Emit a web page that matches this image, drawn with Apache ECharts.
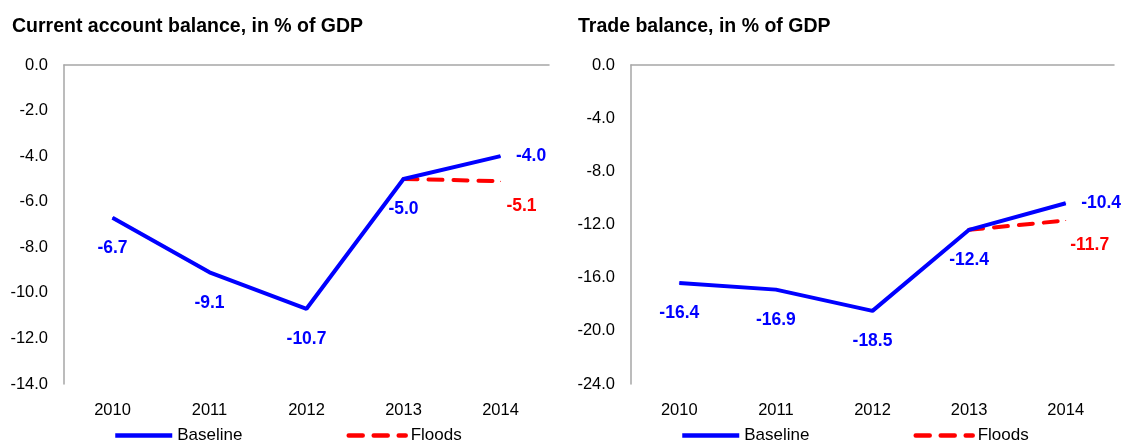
<!DOCTYPE html>
<html>
<head>
<meta charset="utf-8">
<script src="https://cdn.jsdelivr.net/npm/echarts@6/dist/echarts.min.js"></script>
<style>
html, body { margin: 0; padding: 0; background: #fff; }
#chart { width: 1126px; height: 443px; }
</style>
</head>
<body>
<div id="chart"></div>
<script>
var years = ['2010', '2011', '2012', '2013', '2014'];

// current account balance, % of GDP
var caBaseline = [-6.7, -9.1, -10.7, -5.0, -4.0];
var caFloods = [null, null, null, -5.0, -5.1];

// trade balance, % of GDP
var tbBaseline = [-16.4, -16.9, -18.5, -12.4, -10.4];
var tbFloods = [null, null, null, -12.4, -11.7];

var BLUE = '#0000ff';
var RED = '#ff0000';
var FONT = '"Liberation Sans", Arial, sans-serif';

var chart = echarts.init(document.getElementById('chart'));

// baseline: labels under the points, last one to the right
function baselineData(arr){
	return arr.map(function(v, i){
		if(i == arr.length - 1){
			return { value: v, label: { position: 'right', distance: 15 } };
		}
		return { value: v };
	});
}
// floods: only the last point gets a label, below and a bit to the right
function floodsData(arr, dx){
	return arr.map(function(v, i){
		if(i == arr.length - 1){
			return { value: v, label: { show: true, offset: [dx, -6] } };
		}
		return { value: v, label: { show: false } };
	});
}

function yAxis(idx, min, interval){
	return {
		type: 'value',
		gridIndex: idx,
		min: min,
		max: 0,
		interval: interval,
		axisLine: { show: true, lineStyle: { color: '#a6a6a6', width: 1.5 } },
		axisTick: { show: false },
		splitLine: { show: false },
		axisLabel: {
			color: '#000', fontSize: 16.5, fontFamily: FONT, margin: 16,
			formatter: function(v){ return v.toFixed(1); }
		}
	};
}

var labelBase = {
	show: true, position: 'bottom', distance: 21, fontSize: 17.5, fontWeight: 'bold', fontFamily: FONT,
	formatter: function(p){ return Number(p.value).toFixed(1); }
};

var legendBase = {
	data: ['Baseline', 'Floods'], top: 422, itemWidth: 57, itemHeight: 14, itemGap: 104,
	itemStyle: { opacity: 0 },
	lineStyle: { width: 4.5 },
	textStyle: { fontSize: 17, color: '#000', fontFamily: FONT }
};

var option = {
	animation: false,
	title: [
		{ text: 'Current account balance, in % of GDP', left: 7, top: 12,
		  textStyle: { fontSize: 19.5, fontWeight: 'bold', color: '#000', fontFamily: FONT } },
		{ text: 'Trade balance, in % of GDP', left: 573, top: 12,
		  textStyle: { fontSize: 19.5, fontWeight: 'bold', color: '#000', fontFamily: FONT } }
	],
	legend: [
		Object.assign({ left: 108 }, legendBase),
		Object.assign({ left: 675 }, legendBase)
	],
	grid: [
		{ left: 64, top: 65, width: 485, height: 319 },
		{ left: 631, top: 65, width: 483, height: 319 }
	],
	xAxis: [
		{ type: 'category', gridIndex: 0, data: years, position: 'bottom',
		  axisLine: { show: false }, axisTick: { show: false },
		  axisLabel: { color: '#000', fontSize: 16.5, fontFamily: FONT, margin: 18 } },
		{ type: 'category', gridIndex: 1, data: years, position: 'bottom',
		  axisLine: { show: false }, axisTick: { show: false },
		  axisLabel: { color: '#000', fontSize: 16.5, fontFamily: FONT, margin: 18 } },
		// zero lines along the top
		{ type: 'category', gridIndex: 0, data: years, position: 'top',
		  axisLine: { show: true, lineStyle: { color: '#a6a6a6', width: 1.5 } },
		  axisTick: { show: false }, axisLabel: { show: false } },
		{ type: 'category', gridIndex: 1, data: years, position: 'top',
		  axisLine: { show: true, lineStyle: { color: '#a6a6a6', width: 1.5 } },
		  axisTick: { show: false }, axisLabel: { show: false } }
	],
	yAxis: [ yAxis(0, -14, 2), yAxis(1, -24, 4) ],
	series: [
		{ name: 'Baseline', type: 'line', xAxisIndex: 0, yAxisIndex: 0, symbol: 'circle', symbolSize: 1, z: 3,
		  data: baselineData(caBaseline),
		  lineStyle: { color: BLUE, width: 4 }, itemStyle: { color: BLUE },
		  label: Object.assign({ color: BLUE }, labelBase) },
		{ name: 'Floods', type: 'line', xAxisIndex: 0, yAxisIndex: 0, symbol: 'circle', symbolSize: 1, z: 2,
		  data: floodsData(caFloods, 21),
		  lineStyle: { color: RED, width: 4, type: [14, 11], cap: 'round' }, itemStyle: { color: RED },
		  label: Object.assign({}, labelBase, { color: RED }) },
		{ name: 'Baseline', type: 'line', xAxisIndex: 1, yAxisIndex: 1, symbol: 'circle', symbolSize: 1, z: 3,
		  data: baselineData(tbBaseline),
		  lineStyle: { color: BLUE, width: 4 }, itemStyle: { color: BLUE },
		  label: Object.assign({ color: BLUE }, labelBase) },
		{ name: 'Floods', type: 'line', xAxisIndex: 1, yAxisIndex: 1, symbol: 'circle', symbolSize: 1, z: 2,
		  data: floodsData(tbFloods, 24),
		  lineStyle: { color: RED, width: 4, type: [14, 11], cap: 'round' }, itemStyle: { color: RED },
		  label: Object.assign({}, labelBase, { color: RED }) }
	]
};

chart.setOption(option);
</script>
</body>
</html>
